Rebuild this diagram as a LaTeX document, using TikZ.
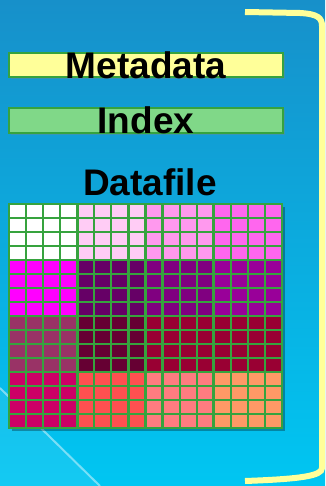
\documentclass[tikz,border=0pt]{standalone}
\usepackage{fontspec}
\setmainfont{Liberation Sans}
\usetikzlibrary{shadows}

\definecolor{skytop}{HTML}{1790CA}
\definecolor{skybot}{HTML}{00C6F2}
\definecolor{metayellow}{HTML}{FFFF99}
\definecolor{idxgreen}{HTML}{80D888}
\definecolor{gridgreen}{HTML}{36A33E}

\begin{document}
\begin{tikzpicture}[x=1pt,y=-1pt,
  bar/.style={draw=gridgreen, line width=2pt, minimum width=274pt, inner sep=0pt,
    drop shadow={shadow xshift=2pt, shadow yshift=-2pt, opacity=.35}},
  label/.style={font=\fontsize{37}{40}\selectfont\bfseries, inner sep=0pt},
  cellline/.style={gridgreen, line width=2.2pt},
  blockline/.style={gridgreen, line width=2.8pt}]
  % background and bracket
  \shade[top color=skytop, bottom color=skybot] (0,0) rectangle (325,486);
  \useasboundingbox (0,0) rectangle (325,486);
  \fill[white, opacity=.08] (0,388) -- (100,486) -- (0,486) -- cycle;
  \draw[white, opacity=.45, line width=2pt] (0,388) -- (100,486);
  \draw[metayellow, line width=6pt] (245,12) -- (300,13) .. controls (318,14) and (322,18) .. (322,26)
    -- (322,468) .. controls (322,476) and (300,479) .. (245,481);

  % header bars
  \node[bar, fill=metayellow, minimum height=24pt] (meta) at (146,65) {};
  \node[label] at (meta) {Metadata};
  \node[bar, fill=idxgreen, minimum height=25pt] (index) at (146,120.5) {};
  \node[label] at (index) {Index};
  \node[label] (datalabel) at (150,182) {Datafile};

  % datafile blocks
  \fill[black, opacity=.3] (12,207) rectangle (285,431);
  \foreach \col [count=\i from 0] in {FFFFFF,FFCCF5,FF99EE,FF66EE,
                                      FF00FF,660066,800080,990099,
                                      993366,660033,990033,990033,
                                      CC0066,FF5050,FF7C80,FF9966} {
    \pgfmathsetmacro{\bx}{9+mod(\i,4)*68.25}
    \pgfmathsetmacro{\by}{204+int(\i/4)*56}
    \definecolor{blockfill}{HTML}{\col}
    \fill[blockfill] (\bx,\by) rectangle ++(68.25,56);
    \foreach \k in {1,2,3} {
      \draw[cellline] (\bx+\k*17.0625,\by) -- ++(0,56);
      \draw[cellline] (\bx,\by+\k*14) -- ++(68.25,0);
    }
    \draw[blockline] (\bx,\by) rectangle ++(68.25,56);
  }
\end{tikzpicture}
\end{document}
